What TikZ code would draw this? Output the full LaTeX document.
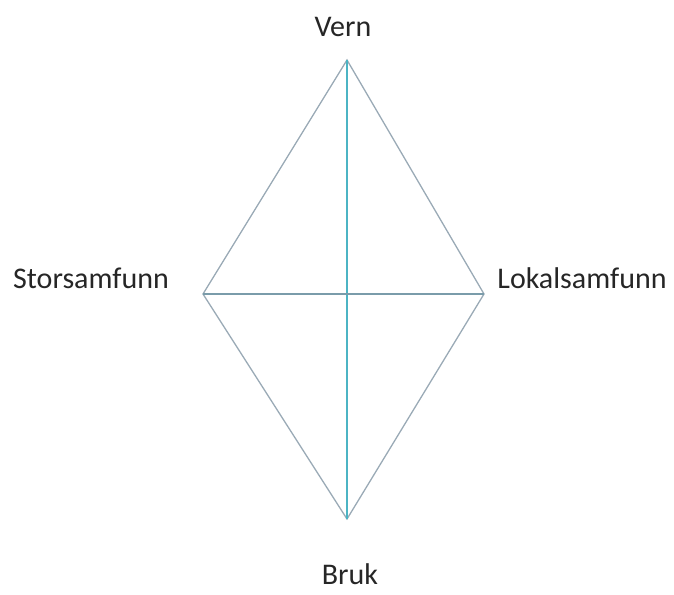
\documentclass[tikz,border=0pt]{standalone}
\usepackage{fontspec}
\setmainfont{Carlito}
\definecolor{edgegray}{HTML}{9AAAB6}
\definecolor{vteal}{HTML}{4CB4C4}
\definecolor{hgray}{HTML}{7A9CAA}
\tikzset{
  lbl/.style={font=\fontsize{30}{36}\selectfont, text=black!85, anchor=base, inner sep=0pt},
  edge/.style={draw=edgegray, line width=1.3pt},
}
\begin{document}
\begin{tikzpicture}[x=1pt,y=-1pt]
\useasboundingbox (0,0) rectangle (674,594);
\coordinate (T) at (347,60);
\coordinate (L) at (203,294);
\coordinate (R) at (484,294);
\coordinate (B) at (347,519);
\draw[edge] (T) -- (R) -- (B) -- (L) -- cycle;
\draw[draw=vteal, line width=1.3pt] (T) -- (B);
\draw[draw=hgray, line width=1.3pt] (L) -- (R);
\node[lbl] (vern) at (343,37) {Vern};
\node[lbl] (stor) at (91,288) {Storsamfunn};
\node[lbl] (lokal) at (582,288) {Lokalsamfunn};
\node[lbl] (bruk) at (350,584) {Bruk};
\end{tikzpicture}
\end{document}
